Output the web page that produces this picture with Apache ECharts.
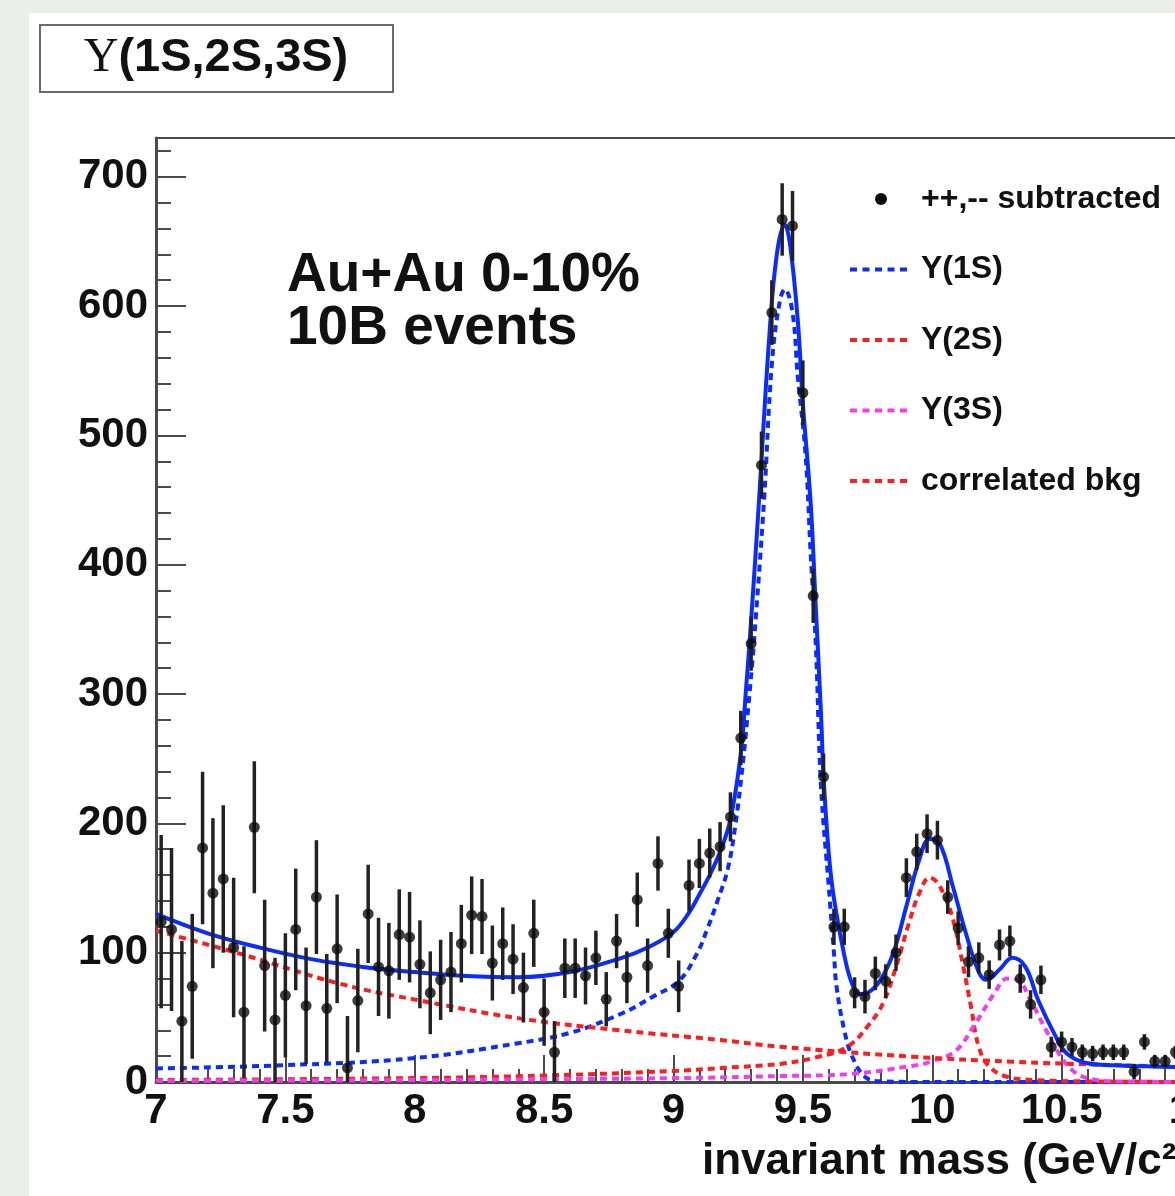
<!DOCTYPE html>
<html>
<head>
<meta charset="utf-8">
<script src="https://cdn.jsdelivr.net/npm/echarts@6/dist/echarts.min.js"></script>
<style>
  html, body { margin: 0; padding: 0; background: #eceeec; }
  #chart { width: 1175px; height: 1196px; }
</style>
</head>
<body>
<div id="chart"></div>
<script>
// bin centres (GeV/c^2), 0.04 wide bins
const massBins = [
  7.02, 7.06, 7.10, 7.14, 7.18, 7.22, 7.26, 7.30, 7.34, 7.38,
  7.42, 7.46, 7.50, 7.54, 7.58, 7.62, 7.66, 7.70, 7.74, 7.78,
  7.82, 7.86, 7.90, 7.94, 7.98, 8.02, 8.06, 8.10, 8.14, 8.18,
  8.22, 8.26, 8.30, 8.34, 8.38, 8.42, 8.46, 8.50, 8.54, 8.58,
  8.62, 8.66, 8.70, 8.74, 8.78, 8.82, 8.86, 8.90, 8.94, 8.98,
  9.02, 9.06, 9.10, 9.14, 9.18, 9.22, 9.26, 9.30, 9.34, 9.38,
  9.42, 9.46, 9.50, 9.54, 9.58, 9.62, 9.66, 9.70, 9.74, 9.78,
  9.82, 9.86, 9.90, 9.94, 9.98, 10.02, 10.06, 10.10, 10.14, 10.18,
  10.22, 10.26, 10.30, 10.34, 10.38, 10.42, 10.46, 10.50, 10.54, 10.58,
  10.62, 10.66, 10.70, 10.74, 10.78, 10.82, 10.86, 10.90, 10.94
];

// ++,-- subtracted counts
const counts = [
  124, 118, 47, 74, 181, 146, 157, 104, 54, 197,
  90, 48, 67, 118, 59, 143, 57, 103, 11, 63,
  130, 89, 86, 114, 112, 91, 69, 79, 85, 107,
  129, 128, 92, 107, 95, 73, 115, 54, 23, 88,
  88, 82, 96, 64, 109, 81, 141, 90, 169, 115,
  74, 152, 169, 177, 182, 205, 266, 339, 477, 595,
  667, 662, 533, 376, 236, 120, 120, 69, 66, 84,
  78, 100, 158, 178, 192, 187, 143, 119, 93, 96,
  83, 106, 109, 80, 60, 79, 27, 31, 27, 23,
  22, 23, 23, 23, 8, 31, 16, 16, 23
];

// statistical errors
const errors = [
  67, 63, 62, 56, 59, 58, 57, 54, 51, 51,
  51, 48, 48, 47, 45, 44, 42, 42, 40, 40,
  38, 38, 37, 35, 35, 34, 32, 31, 31, 30,
  30, 29, 29, 28, 27, 27, 26, 26, 24, 23,
  23, 22, 21, 21, 21, 20, 21, 21, 21, 19,
  20, 20, 19, 19, 19, 19, 21, 21, 26, 25,
  28, 27, 25, 21, 18, 14, 14, 12, 13, 13,
  13, 14, 15, 14, 15, 15, 13, 13, 12, 12,
  11, 12, 12, 11, 11, 11, 8, 8, 7, 6,
  6, 6, 6, 6, 6, 6, 5, 5, 5
];

// fit curves: [mass, yield]
const fitTotal = [
  [7.0, 130], [7.2, 115], [7.4, 104], [7.6, 95], [7.8, 89], [8.0, 85],
  [8.2, 82], [8.4, 81], [8.6, 85], [8.8, 96], [8.9, 104], [9.0, 116],
  [9.06, 131], [9.1, 145], [9.14, 160], [9.18, 178], [9.22, 203], [9.26, 254],
  [9.28, 303], [9.30, 357], [9.33, 448], [9.37, 576], [9.40, 641], [9.43, 663],
  [9.45, 648], [9.48, 590], [9.50, 525], [9.53, 448], [9.55, 367], [9.57, 285],
  [9.58, 236], [9.60, 177], [9.62, 142], [9.66, 98], [9.69, 76], [9.72, 68],
  [9.75, 69], [9.80, 79], [9.85, 100], [9.90, 136], [9.95, 172], [9.99, 188],
  [10.03, 184], [10.08, 151], [10.13, 115], [10.18, 85], [10.21, 79], [10.26, 87],
  [10.31, 96], [10.36, 89], [10.41, 63], [10.47, 38], [10.52, 22], [10.60, 14.5],
  [10.70, 13], [10.85, 12], [11.0, 11.5]
];

const fit1S = [
  [7.0, 10.5], [7.5, 13], [8.0, 18.5], [8.4, 30], [8.6, 38], [8.8, 53],
  [8.92, 66], [9.02, 78], [9.09, 99], [9.13, 118], [9.17, 140], [9.21, 165],
  [9.24, 200], [9.27, 250], [9.29, 292], [9.31, 338], [9.35, 450], [9.38, 555],
  [9.41, 603], [9.43, 613], [9.46, 595], [9.48, 546], [9.51, 486], [9.53, 409],
  [9.55, 338], [9.57, 229], [9.60, 151], [9.62, 100], [9.63, 74], [9.66, 40],
  [9.69, 20], [9.74, 4], [9.80, 0.5], [10.0, 0], [11.0, 0]
];

const fit2S = [
  [7.0, 1.5], [8.0, 3], [8.5, 5], [9.0, 8.5], [9.2, 11], [9.41, 14],
  [9.55, 19], [9.67, 27], [9.75, 43], [9.81, 61], [9.86, 89], [9.91, 123],
  [9.95, 146], [9.99, 158], [10.02, 154], [10.06, 138], [10.09, 118], [10.12, 89],
  [10.15, 58], [10.18, 27], [10.22, 12], [10.29, 4], [10.4, 1.5], [10.6, 0.5],
  [11.0, 0]
];

const fit3S = [
  [7.0, 1], [8.0, 1.5], [9.0, 3], [9.41, 4.6], [9.67, 6], [9.92, 12.4],
  [10.0, 16], [10.09, 24], [10.16, 43], [10.24, 68.5], [10.29, 80], [10.33, 79],
  [10.38, 63], [10.44, 40], [10.49, 22], [10.54, 9.3], [10.60, 3], [10.70, 0.5],
  [11.0, 0]
];

const fitBkg = [
  [7.0, 117], [7.32, 99.5], [7.71, 76], [8.02, 63], [8.41, 49], [8.79, 40],
  [9.18, 32.5], [9.41, 27.3], [9.92, 19.6], [10.31, 15.7], [10.7, 13.1], [11.0, 11.5]
];

const legendNames = ['++,-- subtracted', 'Υ(1S)', 'Υ(2S)', 'Υ(3S)', 'correlated bkg'];

const FONT = '"Liberation Sans", Arial, Helvetica, sans-serif';
const BLUE = '#0a2cff';
const RED = '#ff1c1c';
const MAGENTA = '#f23cf2';

const points = massBins.map((m, i) => [m, counts[i]]);
const bars = massBins.map((m, i) => [m, counts[i] - errors[i], counts[i] + errors[i]]);

const chart = echarts.init(document.getElementById('chart'));

function dotted(name, data, color) {
  return {
    name: name,
    type: 'line',
    data: data,
    smooth: 0.4,
    symbol: 'none',
    z: 3,
    lineStyle: { color: color, width: 4, type: [7, 5] },
    itemStyle: { color: color }
  };
}

chart.setOption({
  animation: false,
  backgroundColor: '#eceeec',
  graphic: [
    { type: 'rect', z: -10, shape: { x: 29, y: 13, width: 1200, height: 1200 }, style: { fill: '#ffffff' } },
    {
      type: 'rect', z: 10,
      shape: { x: 40, y: 25, width: 353, height: 67 },
      style: { fill: '#ffffff', stroke: '#6a6a6a', lineWidth: 2 }
    },
    {
      type: 'text', z: 11, x: 216, y: 58,
      style: {
        text: '{u|Υ}{b|(1S,2S,3S)}',
        align: 'center', verticalAlign: 'middle',
        rich: {
          u: { font: '48px "Liberation Serif", "DejaVu Serif", serif', fill: '#111' },
          b: { font: 'bold 47px ' + FONT, fill: '#111' }
        }
      }
    },
    {
      type: 'text', z: 11, x: 287, y: 276,
      style: { text: 'Au+Au 0-10%', font: 'bold 55px ' + FONT, fill: '#111', verticalAlign: 'middle' }
    },
    {
      type: 'text', z: 11, x: 287, y: 329,
      style: { text: '10B events', font: 'bold 55px ' + FONT, fill: '#111', verticalAlign: 'middle' }
    }
  ],
  grid: {
    left: 156, top: 138, width: 1035, height: 944,
    show: true, borderColor: '#4a4a4a', borderWidth: 2,
    backgroundColor: 'transparent',
    outerBoundsMode: 'none'
  },
  legend: {
    data: legendNames.map((n, i) => i === 0
      ? { name: n, icon: 'circle', itemStyle: { opacity: 1 } }
      : n),
    orient: 'vertical',
    left: 843, top: 178,
    itemWidth: 62, itemHeight: 12, itemGap: 38.5,
    selectedMode: false,
    itemStyle: { opacity: 0 },
    lineStyle: { width: 4, type: [7, 5.5] },
    textStyle: {
      fontFamily: FONT, fontWeight: 'bold', fontSize: 32, color: '#111',
      lineHeight: 32, padding: [0, 0, 0, 4]
    }
  },
  xAxis: {
    type: 'value',
    min: 7, max: 11, interval: 0.5,
    name: 'invariant mass (GeV/c²)',
    nameLocation: 'end', nameGap: 0,
    nameTextStyle: {
      fontFamily: FONT, fontWeight: 'bold', fontSize: 44, color: '#111',
      align: 'right', verticalAlign: 'top', padding: [58, 0, 0, 0]
    },
    axisLine: { show: true, onZero: false, lineStyle: { color: '#4a4a4a', width: 3 } },
    axisTick: { show: true, inside: true, length: 27, lineStyle: { color: '#4a4a4a', width: 2 } },
    minorTick: { show: true, splitNumber: 5, length: 13, lineStyle: { color: '#4a4a4a', width: 2 } },
    axisLabel: { fontFamily: FONT, fontWeight: 'bold', fontSize: 42, color: '#111', margin: 8 },
    splitLine: { show: false }
  },
  yAxis: {
    type: 'value',
    min: 0, max: 730, interval: 100,
    axisLine: { show: true, lineStyle: { color: '#4a4a4a', width: 3 } },
    axisTick: { show: true, inside: true, length: 30, lineStyle: { color: '#4a4a4a', width: 2 } },
    minorTick: { show: true, splitNumber: 5, length: 15, lineStyle: { color: '#4a4a4a', width: 2 } },
    axisLabel: {
      fontFamily: FONT, fontWeight: 'bold', fontSize: 42, color: '#111', margin: 8,
      formatter: v => (v % 100 === 0 ? String(v) : '')
    },
    splitLine: { show: false }
  },
  series: [
    {
      name: 'error bars',
      type: 'custom',
      clip: true,
      z: 4,
      data: bars,
      renderItem: (params, api) => {
        const x = api.value(0);
        const lo = api.coord([x, api.value(1)]);
        const hi = api.coord([x, api.value(2)]);
        return {
          type: 'line',
          shape: { x1: lo[0], y1: lo[1], x2: hi[0], y2: hi[1] },
          style: { stroke: '#222', lineWidth: 3.5 }
        };
      }
    },
    {
      name: legendNames[0],
      type: 'scatter',
      data: points,
      symbol: 'circle',
      symbolSize: 11,
      z: 5,
      itemStyle: { color: '#0d0d0d' }
    },
    dotted(legendNames[1], fit1S, BLUE),
    dotted(legendNames[2], fit2S, RED),
    dotted(legendNames[3], fit3S, MAGENTA),
    dotted(legendNames[4], fitBkg, RED),
    {
      name: 'total fit',
      type: 'line',
      data: fitTotal,
      smooth: 0.4,
      symbol: 'none',
      z: 3,
      lineStyle: { color: BLUE, width: 4 }
    }
  ]
});
</script>
</body>
</html>
